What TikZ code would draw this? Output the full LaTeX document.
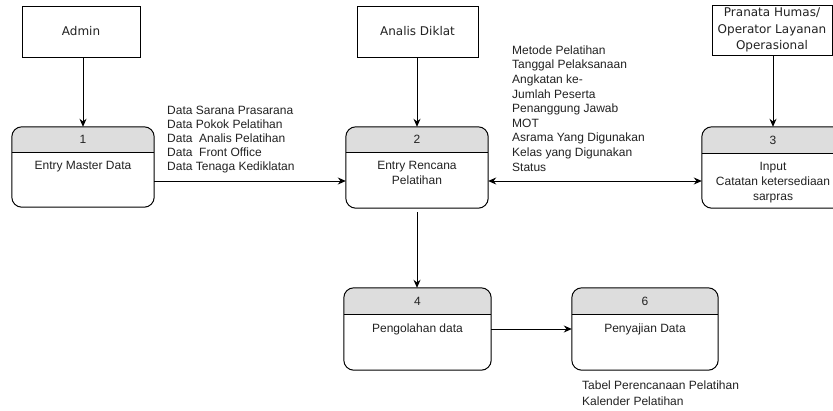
\documentclass[tikz,border=0pt]{standalone}
\usepackage{fontspec}
\setmainfont{Liberation Sans}
\newfontfamily\entfont{DejaVu Sans}
\usetikzlibrary{arrows.meta}
\definecolor{hdr}{HTML}{DDDDDD}
\definecolor{ink}{HTML}{222222}

\tikzset{
  entity/.style={draw, line width=1pt, inner sep=0pt, align=center,
    font=\entfont\fontsize{12}{16.5}\selectfont, text=ink},
  procshape/.style={inner sep=0pt},
  outline/.style={line width=1pt, rounded corners=10pt},
  flow/.style={line width=1pt, -{Stealth[length=8pt,width=7pt]}},
  bothflow/.style={line width=1pt, {Stealth[length=8pt,width=7pt]}-{Stealth[length=8pt,width=7pt]}},
  numtxt/.style={font=\fontsize{12}{14}\selectfont, text=ink, inner sep=0pt},
  proctxt/.style={font=\fontsize{12}{15}\selectfont, align=center, anchor=north,
    inner sep=0pt, text=ink},
  datatxt/.style={align=left, anchor=north west, inner sep=0pt, text=ink},
}

% process box: name, centre x, centre y, width, height, header height, number, label
\newcommand\procbox[8]{%
  \node[procshape, minimum width=#4pt, minimum height=#5pt] (#1) at (#2,#3) {};
  \begin{scope}
    \clip[rounded corners=10pt] (#1.north west) rectangle (#1.south east);
    \fill[hdr] (#1.north west) rectangle ([yshift=-#6pt]#1.north east);
  \end{scope}
  \draw[line width=1pt] ([yshift=-#6pt]#1.north west) -- ([yshift=-#6pt]#1.north east);
  \draw[outline] (#1.north west) rectangle (#1.south east);
  \node[numtxt] (#1num) at ([yshift=-#6pt/2]#1.north) {#7};
  \node[proctxt] (#1txt) at ([yshift=-#6pt-8.5pt]#1.north) {#8};
}

\begin{document}
\begin{tikzpicture}[x=1pt, y=-1pt]
  \clip (0,0) rectangle (833,410);
  \fill[white] (0,0) rectangle (833,410);

  % external entities
  \node[entity, minimum width=118pt, minimum height=51pt] (admin) at (81,31.5) {Admin};
  \node[entity, minimum width=121pt, minimum height=51pt] (analis) at (417.5,31.5) {Analis Diklat};
  \node[entity, minimum width=120pt, minimum height=50pt] (pranata) at (772,30)
    {Pranata Humas/\\Operator Layanan\\Operasional};

  % processes
  \procbox{p1}{83}{167}{142}{80}{26}{1}{Entry Master Data}
  \procbox{p2}{417}{167.5}{142}{81}{26}{2}{Entry Rencana\\Pelatihan}
  \procbox{p3}{773}{167.5}{142}{81}{27}{3}{Input\\Catatan ketersediaan\\sarpras}
  \procbox{p4}{417.5}{329}{147}{82}{27}{4}{Pengolahan data}
  \procbox{p6}{645}{329}{146}{82}{27}{6}{Penyajian Data}

  % flows
  \draw[flow] (admin.south -| p1.north) -- (p1.north);
  \draw[flow] (analis.south -| p2.north) -- (p2.north);
  \draw[flow] (pranata.south -| p3.north) -- (p3.north);
  \draw[flow] ([yshift=-14pt]p1.east) -- ([yshift=-14pt]p1.east -| p2.west);
  \draw[bothflow] ([yshift=-13.5pt]p2.east) -- ([yshift=-13.5pt]p2.east -| p3.west);
  \draw[flow, shorten <=4pt] (p2.south) -- (p2.south |- p4.north);
  \draw[flow] (p4.east) -- (p4.east -| p6.west);

  % data labels
  \node[datatxt, font=\fontsize{12}{14}\selectfont] (dmaster) at (167,105.5)
    {Data Sarana Prasarana\\Data Pokok Pelatihan\\Data\ \ Analis Pelatihan\\Data\ \ Front Office\\Data Tenaga Kediklatan};
  \node[datatxt, font=\fontsize{12}{14.6}\selectfont] (drencana) at (512,45.5)
    {Metode Pelatihan\\Tanggal Pelaksanaan\\Angkatan ke-\\Jumlah Peserta\\Penanggung Jawab\\MOT\\Asrama Yang Digunakan\\Kelas yang Digunakan\\Status};
  \node[datatxt, font=\fontsize{12}{16}\selectfont] (dsaji) at (582,380.5)
    {Tabel Perencanaan Pelatihan\\Kalender Pelatihan};
\end{tikzpicture}
\end{document}
